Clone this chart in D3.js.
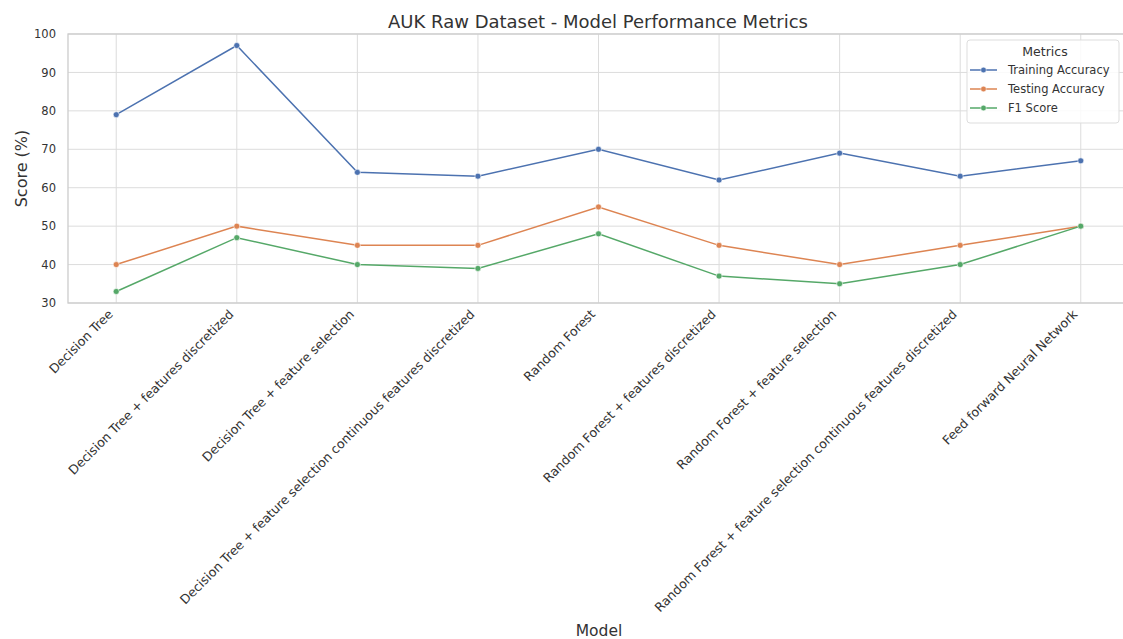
<!DOCTYPE html>
<html>
<head>
<meta charset="utf-8">
<script src="https://cdn.jsdelivr.net/npm/d3@7"></script>
<style>
  body { margin: 0; background: #fff; }
  svg { font-family: "DejaVu Sans", sans-serif; display: block; }
  .grid line { stroke: #dcdcdc; stroke-width: 1; }
  .tick text { fill: #333; font-family: "DejaVu Sans", sans-serif; }
</style>
</head>
<body>
<div id="chart"></div>
<script>
'use strict';

// Data
const models = [
    'Decision Tree',
    'Decision Tree + features discretized',
    'Decision Tree + feature selection',
    'Decision Tree + feature selection continuous features discretized',
    'Random Forest',
    'Random Forest + features discretized',
    'Random Forest + feature selection',
    'Random Forest + feature selection continuous features discretized',
    'Feed forward Neural Network'
];
const trainingAccuracy = [79, 97, 64, 63, 70, 62, 69, 63, 67];
const testingAccuracy = [40, 50, 45, 45, 55, 45, 40, 45, 50];
const f1Score = [33, 47, 40, 39, 48, 37, 35, 40, 50];
const metricNames = ['Training Accuracy', 'Testing Accuracy', 'F1 Score'];
const yTicks = [30, 40, 50, 60, 70, 80, 90, 100];

const series = [trainingAccuracy, testingAccuracy, f1Score].map((vals, i) => ({
    name: metricNames[i],
    values: vals
}));

// Configs
const W = 1123, H = 639;
const m = {top: 34, right: -6, bottom: 336, left: 68};
const gW = W - m.left - m.right;
const gH = H - m.top - m.bottom;
const colors = ['#4c72b0', '#dd8452', '#55a868'];

const xScale = d3.scalePoint()
    .domain(models)
    .range([0, gW])
    .padding(0.4);
const yScale = d3.scaleLinear()
    .domain([30, 100])
    .range([gH, 0]);
const colorScale = d3.scaleOrdinal()
    .domain(metricNames)
    .range(colors);

const svg = d3.select('#chart')
    .append('svg')
    .attr('width', W)
    .attr('height', H);
const g = svg.append('g')
    .attr('transform', `translate(${m.left},${m.top})`);

// Grid
g.append('g')
    .attr('class', 'grid')
    .selectAll('line.h')
    .data(yTicks)
    .join('line')
    .attr('x1', 0).attr('x2', gW)
    .attr('y1', d => yScale(d)).attr('y2', d => yScale(d));
g.append('g')
    .attr('class', 'grid')
    .selectAll('line.v')
    .data(models)
    .join('line')
    .attr('x1', d => xScale(d)).attr('x2', d => xScale(d))
    .attr('y1', 0).attr('y2', gH);

// Frame
g.append('rect')
    .attr('width', gW).attr('height', gH)
    .attr('fill', 'none')
    .attr('stroke', '#cccccc')
    .attr('stroke-width', 1.3);

// Axes
const yAxis = g.append('g')
    .call(d3.axisLeft(yScale).tickValues(yTicks).tickSize(0).tickPadding(12));
yAxis.select('.domain').remove();
yAxis.selectAll('.tick text').attr('font-size', 11.5);

const xAxis = g.append('g')
    .attr('transform', `translate(0,${gH})`)
    .call(d3.axisBottom(xScale).tickSize(0));
xAxis.select('.domain').remove();
xAxis.selectAll('.tick text')
    .attr('font-size', 12.6)
    .attr('text-anchor', 'end')
    .attr('dy', null)
    .attr('y', 0)
    .attr('transform', 'translate(-3,12) rotate(-45)');

// Lines
const lineMaker = d3.line()
    .x((d, i) => xScale(models[i]))
    .y(d => yScale(d));

const sG = g.selectAll('.series')
    .data(series)
    .join('g')
    .attr('class', 'series');
sG.append('path')
    .attr('fill', 'none')
    .attr('stroke', d => colorScale(d.name))
    .attr('stroke-width', 1.5)
    .attr('d', d => lineMaker(d.values));
sG.selectAll('circle')
    .data(d => d.values.map((v, i) => ({v, i, name: d.name})))
    .join('circle')
    .attr('cx', d => xScale(models[d.i]))
    .attr('cy', d => yScale(d.v))
    .attr('r', 3)
    .attr('fill', d => colorScale(d.name))
    .attr('stroke', '#fff')
    .attr('stroke-width', 0.6);

// Title and labels
svg.append('text')
    .attr('x', 598).attr('y', 28)
    .attr('text-anchor', 'middle')
    .attr('font-size', 18)
    .attr('fill', '#333')
    .text('AUK Raw Dataset - Model Performance Metrics');
svg.append('text')
    .attr('transform', `translate(27,${m.top + gH / 2}) rotate(-90)`)
    .attr('text-anchor', 'middle')
    .attr('font-size', 16)
    .attr('fill', '#333')
    .text('Score (%)');
svg.append('text')
    .attr('x', 599).attr('y', 636)
    .attr('text-anchor', 'middle')
    .attr('font-size', 15.5)
    .attr('fill', '#333')
    .text('Model');

// Legend
const lg = svg.append('g')
    .attr('transform', 'translate(967,40)');
lg.append('rect')
    .attr('width', 152).attr('height', 83)
    .attr('rx', 3)
    .attr('fill', 'rgba(255,255,255,0.85)')
    .attr('stroke', '#dddddd');
lg.append('text')
    .attr('x', 78).attr('y', 16)
    .attr('text-anchor', 'middle')
    .attr('font-size', 12.5)
    .attr('fill', '#333')
    .text('Metrics');
const item = lg.selectAll('.item')
    .data(metricNames)
    .join('g')
    .attr('class', 'item')
    .attr('transform', (d, i) => `translate(0,${30 + i * 19})`);
item.append('line')
    .attr('x1', 3).attr('x2', 30)
    .attr('stroke', d => colorScale(d))
    .attr('stroke-width', 1.5);
item.append('circle')
    .attr('cx', 16.5).attr('r', 2.8)
    .attr('fill', d => colorScale(d))
    .attr('stroke', '#fff')
    .attr('stroke-width', 0.5);
item.append('text')
    .attr('x', 41).attr('dy', '0.35em')
    .attr('font-size', 11.5)
    .attr('fill', '#333')
    .text(d => d);
</script>
</body>
</html>
